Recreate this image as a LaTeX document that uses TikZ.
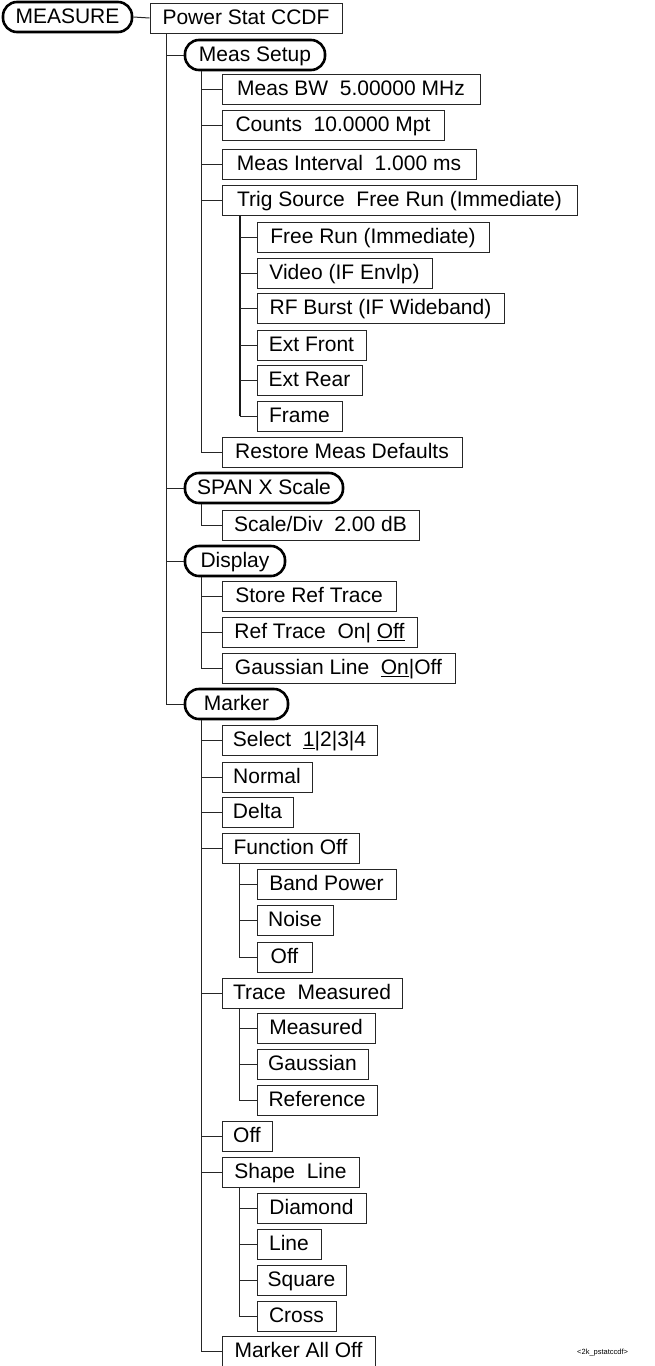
\documentclass[tikz,border=0pt]{standalone}
\usepackage{fontspec}
\setmainfont{Liberation Sans}
\begin{document}
\begin{tikzpicture}[x=1pt,y=-1pt,
  box/.style={draw=black!85,line width=1pt,rectangle,inner sep=0pt,minimum height=30pt,
    text height=15pt,text depth=1.6pt,font=\fontsize{21}{25}\selectfont,anchor=center},
  rbox/.style={box,draw=black,line width=2.6pt,rounded corners=14pt},
  conn/.style={draw=black!85,line width=1pt},
  connb/.style={draw=black!90,line width=2pt}]
\useasboundingbox (0,0) rectangle (655,1366);
% level 0/1
\node[rbox,minimum width=129pt] (meas) at (67.5,17) {MEASURE};
\node[box,minimum width=192pt] (ps) at (246,18) {Power Stat CCDF};
% Meas Setup
\node[rbox,minimum width=140pt] (ms) at (255,55) {Meas Setup};
\node[box,minimum width=258pt] (bw) at (351,89) {Meas BW\ \ 5.00000 MHz};
\node[box,minimum width=222pt] (cnt) at (333,125) {Counts\ \ 10.0000 Mpt};
\node[box,minimum width=254pt] (mi) at (349,164) {Meas Interval\ \ 1.000 ms};
\node[box,minimum width=355pt] (ts) at (399.5,200) {Trig Source\ \ Free Run (Immediate)};
\node[box,minimum width=232pt] (fr) at (373,237) {Free Run (Immediate)};
\node[box,minimum width=175pt] (vid) at (344.5,273) {Video (IF Envlp)};
\node[box,minimum width=247pt] (rfb) at (380.5,308) {RF Burst (IF Wideband)};
\node[box,minimum width=109pt] (ef) at (311.5,345) {Ext Front};
\node[box,minimum width=105pt] (er) at (309.5,380) {Ext Rear};
\node[box,minimum width=85pt] (frm) at (299.5,416) {Frame};
\node[box,minimum width=240pt] (rmd) at (342,452) {Restore Meas Defaults};
% SPAN
\node[rbox,minimum width=158pt] (span) at (264,488) {SPAN X Scale};
\node[box,minimum width=197pt] (sd) at (320.5,525) {Scale/Div\ \ 2.00 dB};
% Display
\node[rbox,minimum width=100pt] (disp) at (235,561) {Display};
\node[box,minimum width=174pt] (srt) at (309,596) {Store Ref Trace};
\node[box,minimum width=195pt] (rt) at (319.5,632) {Ref Trace\ \ On| \underline{Off}};
\node[box,minimum width=233pt] (gl) at (338.5,668) {Gaussian Line\ \ \underline{On}|Off};
% Marker
\node[rbox,minimum width=103pt] (mk) at (236.5,704) {Marker};
\node[box,minimum width=155pt] (sel) at (299.5,740) {Select\ \ \underline{1}|2|3|4};
\node[box,minimum width=90pt] (nor) at (267,777) {Normal};
\node[box,minimum width=71pt] (del) at (257.5,812) {Delta};
\node[box,minimum width=137pt] (fo) at (290.5,848) {Function Off};
\node[box,minimum width=139pt] (bp) at (326.5,884) {Band Power};
\node[box,minimum width=76pt] (noi) at (295,920) {Noise};
\node[box,minimum width=55pt] (offa) at (284.5,957) {Off};
\node[box,minimum width=180pt] (tm) at (312,993) {Trace\ \ Measured};
\node[box,minimum width=118pt] (mea) at (316,1028) {Measured};
\node[box,minimum width=111pt] (gau) at (312.5,1064) {Gaussian};
\node[box,minimum width=120pt] (ref) at (317,1100) {Reference};
\node[box,minimum width=50pt] (offb) at (247,1136) {Off};
\node[box,minimum width=137pt] (sl) at (290.5,1172) {Shape\ \ Line};
\node[box,minimum width=109pt] (dia) at (311.5,1208) {Diamond};
\node[box,minimum width=64pt] (lin) at (289,1244) {Line};
\node[box,minimum width=89pt] (sq) at (301.5,1280) {Square};
\node[box,minimum width=79pt] (cro) at (296.5,1316) {Cross};
\node[box,minimum width=153pt] (mao) at (298.5,1351) {Marker All Off};
% label
\node[font=\fontsize{7.5}{9}\selectfont,anchor=west,inner sep=0pt] (lbl) at (577,1353) {<2k\_pstatccdf>};
% connectors
\draw[conn] (meas.east) -- (ps.west);
\foreach \c in {ms,span,disp,mk}
  \draw[conn] ([xshift=17pt]ps.south west) |- (\c.west);
\foreach \c in {bw,cnt,mi,ts,rmd}
  \draw[conn] ([xshift=18pt]ms.south west) |- (\c.west);
\draw[connb] ([xshift=18pt]ts.south west) -- ([xshift=18pt]ts.south west |- frm.west);
\foreach \c in {fr,vid,rfb,ef,er,frm}
  \draw[conn] ([xshift=18pt]ts.south west |- \c.west) -- (\c.west);
\draw[conn] ([xshift=18pt]span.south west) |- (sd.west);
\foreach \c in {srt,rt,gl}
  \draw[conn] ([xshift=18pt]disp.south west) |- (\c.west);
\foreach \c in {sel,nor,del,fo,tm,offb,sl,mao}
  \draw[conn] ([xshift=18pt]mk.south west) |- (\c.west);
\foreach \c in {bp,noi,offa}
  \draw[conn] ([xshift=18pt]fo.south west) |- (\c.west);
\foreach \c in {mea,gau,ref}
  \draw[conn] ([xshift=18pt]tm.south west) |- (\c.west);
\foreach \c in {dia,lin,sq,cro}
  \draw[conn] ([xshift=18pt]sl.south west) |- (\c.west);
\end{tikzpicture}
\end{document}
